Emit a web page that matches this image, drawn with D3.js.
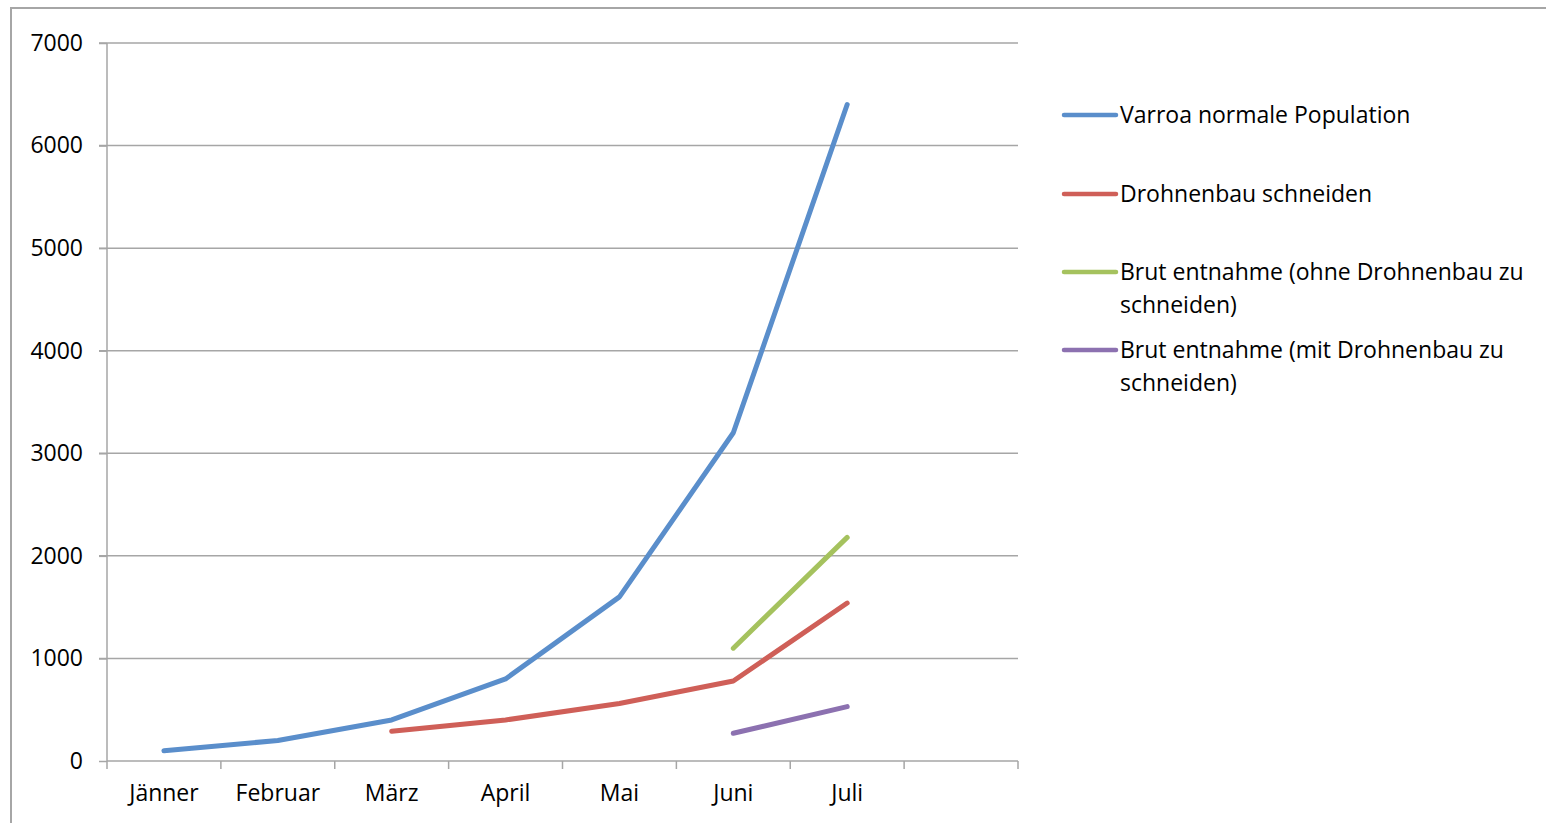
<!DOCTYPE html>
<html>
<head>
<meta charset="utf-8">
<script src="https://cdn.jsdelivr.net/npm/d3@7"></script>
<style>
  body { margin: 0; background: #fff; }
  text { font-family: "Open Sans", sans-serif; fill: #000; }
</style>
</head>
<body>
<svg width="1546" height="823"></svg>
<script>
var months = ["Jänner", "Februar", "März", "April", "Mai", "Juni", "Juli", ""];
var yTicks = [0, 1000, 2000, 3000, 4000, 5000, 6000, 7000];

var seriesNames = [
  ["Varroa normale Population"],
  ["Drohnenbau schneiden"],
  ["Brut entnahme (ohne Drohnenbau zu", "schneiden)"],
  ["Brut entnahme (mit Drohnenbau zu", "schneiden)"]
];
var colors = ["#5a8ecb", "#cf5f58", "#a5c25e", "#8c71b0"];

var varroa = [100, 200, 400, 800, 1600, 3200, 6400];
var drohnenMonths = ["März", "April", "Mai", "Juni", "Juli"];
var drohnen = [290, 400, 560, 780, 1540];
var brutMonths = ["Juni", "Juli"];
var brutOhne = [1100, 2180];
var brutMit = [270, 530];

var series = [
  months.slice(0, 7).map(function(m, i) { return {m: m, v: varroa[i]}; }),
  drohnenMonths.map(function(m, i) { return {m: m, v: drohnen[i]}; }),
  brutMonths.map(function(m, i) { return {m: m, v: brutOhne[i]}; }),
  brutMonths.map(function(m, i) { return {m: m, v: brutMit[i]}; })
];

var svg = d3.select("svg");
var plot = {left: 107, right: 1018, top: 43, bottom: 761};
var fontSize = 23;

// outer frame
svg.append("rect")
  .attr("x", 11).attr("y", 8)
  .attr("width", 1600).attr("height", 900)
  .attr("fill", "none")
  .attr("stroke", "#a6a6a6")
  .attr("stroke-width", 2);

var x = d3.scaleBand().domain(months).range([plot.left, plot.right]);
var y = d3.scaleLinear().domain([0, 7000]).range([plot.bottom, plot.top]);

// gridlines
svg.append("g")
  .selectAll("line")
  .data(yTicks.slice(1))
  .enter().append("line")
  .attr("x1", plot.left - 8).attr("x2", plot.right)
  .attr("y1", function(d) { return y(d); })
  .attr("y2", function(d) { return y(d); })
  .attr("stroke", "#a6a6a6")
  .attr("stroke-width", 1.5);

var yAxis = svg.append("g")
  .attr("transform", "translate(" + plot.left + ",0)")
  .call(d3.axisLeft(y).tickValues(yTicks).tickSize(8).tickPadding(16).tickFormat(d3.format("d")));

var xAxis = svg.append("g")
  .attr("transform", "translate(0," + plot.bottom + ")")
  .call(d3.axisBottom(x).tickSize(0).tickPadding(24));

// tick marks at band edges
xAxis.append("g")
  .selectAll("line")
  .data(months.map(function(m) { return x(m); }).concat([plot.right]))
  .enter().append("line")
  .attr("x1", function(d) { return d; })
  .attr("x2", function(d) { return d; })
  .attr("y1", 0).attr("y2", 8)
  .attr("stroke", "#a6a6a6")
  .attr("stroke-width", 1.5);

[yAxis, xAxis].forEach(function(a) {
  a.selectAll(".domain").attr("stroke", "#a6a6a6").attr("stroke-width", 1.5);
  a.selectAll(".tick line").attr("stroke", "#a6a6a6").attr("stroke-width", 1.5);
  a.selectAll("text").attr("font-size", fontSize).attr("font-family", "'Open Sans', sans-serif").attr("fill", "#000");
});
yAxis.select(".domain").attr("d", "M0," + plot.bottom + "V" + plot.top);
xAxis.select(".domain").attr("d", "M" + plot.left + ",0H" + plot.right);

var line = d3.line()
  .x(function(d) { return x(d.m) + x.bandwidth() / 2; })
  .y(function(d) { return y(d.v); });

svg.append("g")
  .selectAll("path")
  .data(series)
  .enter().append("path")
  .attr("d", line)
  .attr("fill", "none")
  .attr("stroke", function(d, i) { return colors[i]; })
  .attr("stroke-width", 5)
  .attr("stroke-linecap", "round")
  .attr("stroke-linejoin", "round");

// legend
var legendY = [115, 194, 272, 350];
var legend = svg.append("g")
  .selectAll("g")
  .data(seriesNames)
  .enter().append("g")
  .attr("transform", function(d, i) { return "translate(1064," + legendY[i] + ")"; });

legend.append("line")
  .attr("x1", 0).attr("x2", 52)
  .attr("stroke", function(d, i) { return colors[i]; })
  .attr("stroke-width", 4.5)
  .attr("stroke-linecap", "round");

legend.append("text")
  .attr("font-size", fontSize)
  .selectAll("tspan")
  .data(function(d) { return d; })
  .enter().append("tspan")
  .attr("x", 56)
  .attr("y", function(d, i) { return i * 33; })
  .attr("dy", "0.35em")
  .text(function(d) { return d; });
</script>
</body>
</html>
